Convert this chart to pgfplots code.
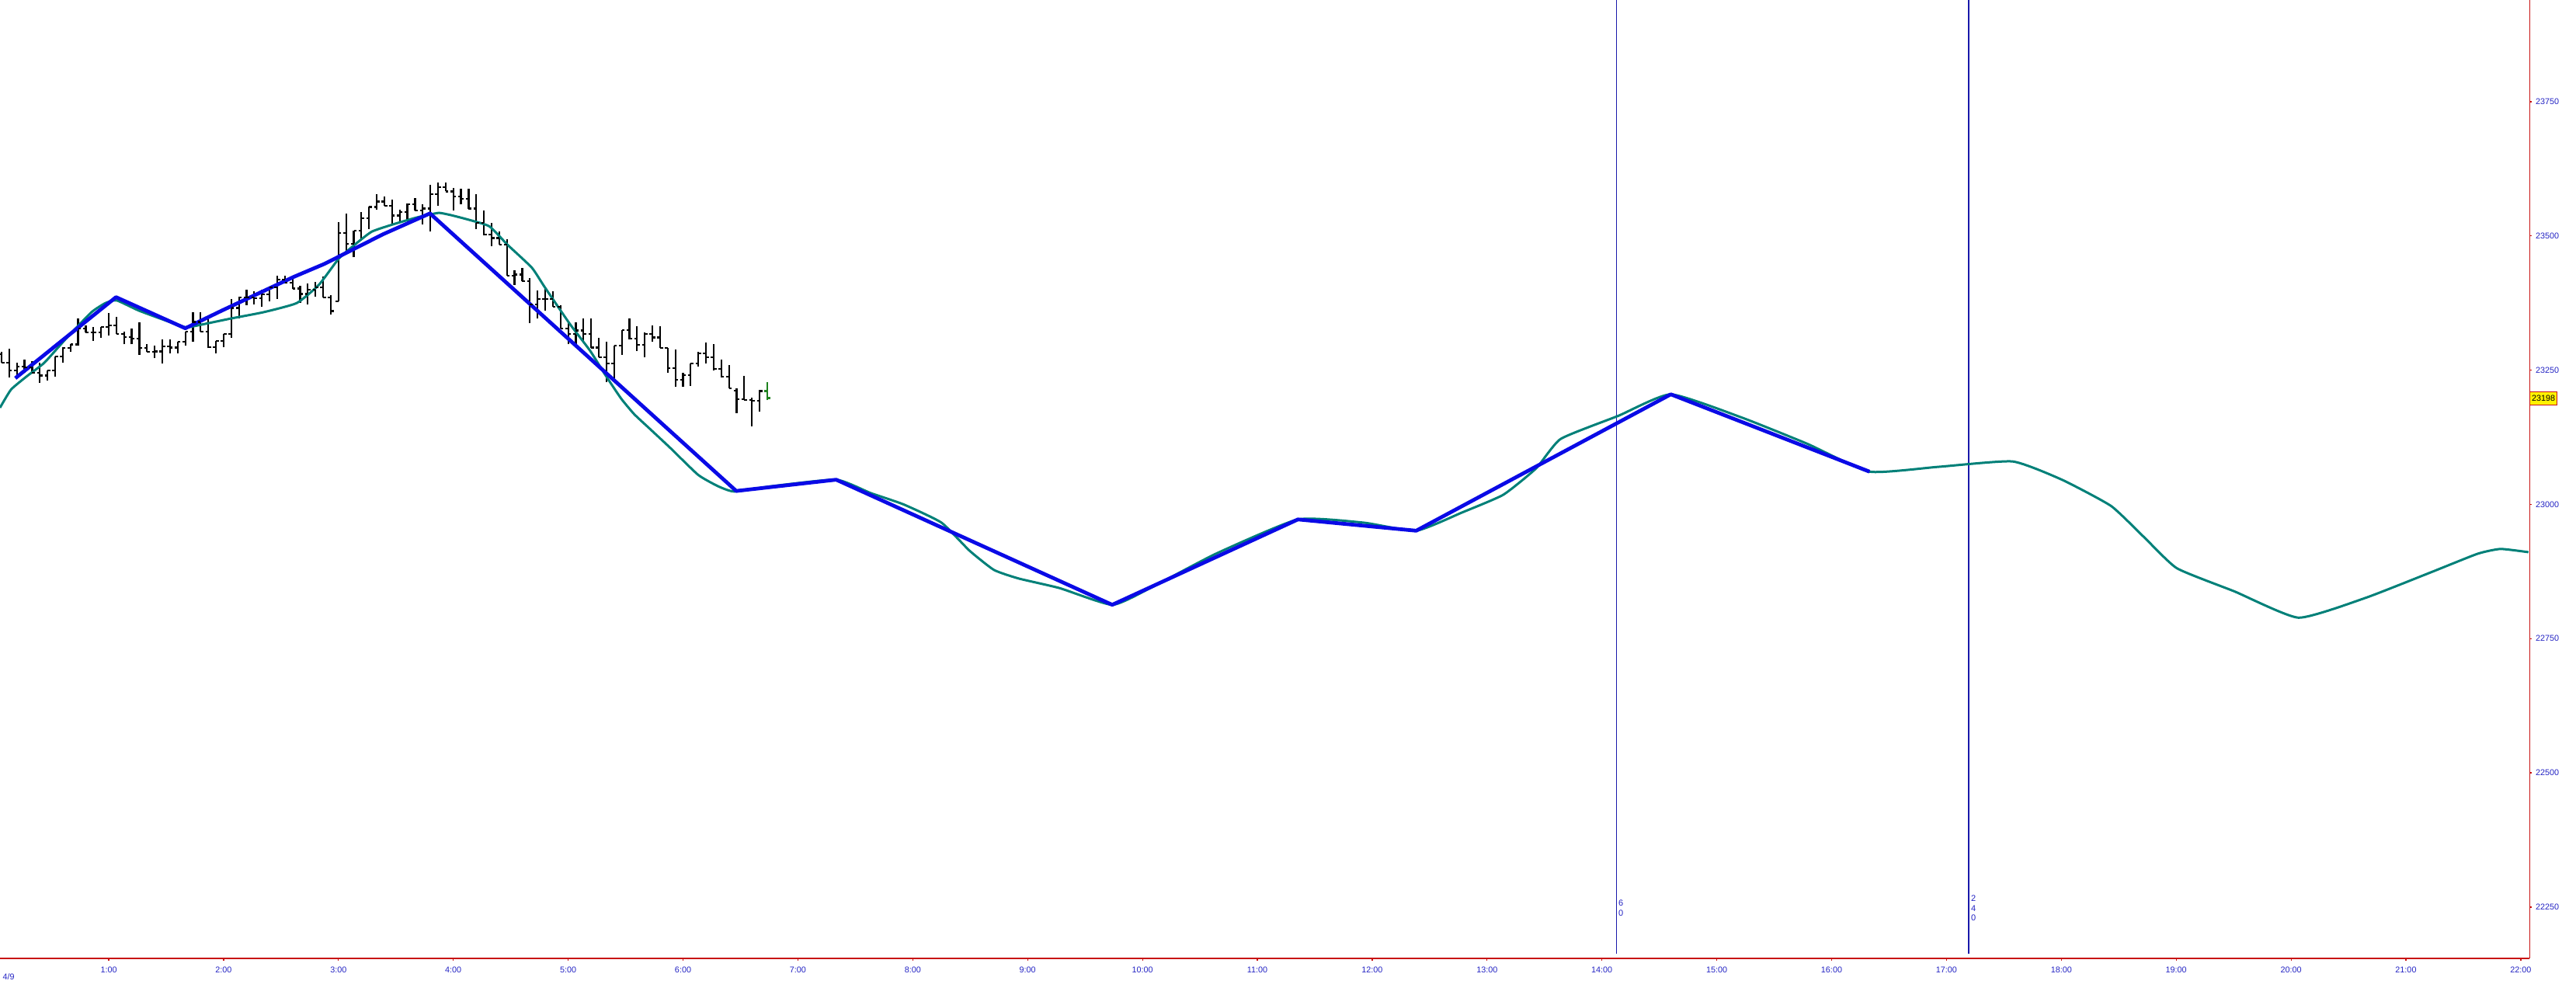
\documentclass[border=0pt]{standalone}
\usepackage{fontspec}
\setmainfont{Liberation Sans}
\usepackage{pgfplots}
\usepackage{pgfplotstable}
\pgfplotsset{compat=1.18}
\definecolor{zz}{RGB}{10,10,230}
\definecolor{ma}{RGB}{0,128,120}
\definecolor{axred}{RGB}{200,20,20}
\definecolor{lblue}{RGB}{35,35,195}
\definecolor{vnavy}{RGB}{25,25,170}
\definecolor{bargreen}{RGB}{30,130,30}
\pgfdeclareplotmark{otick}{\pgfpathmoveto{\pgfqpoint{-\pgfplotmarksize}{0pt}}\pgfpathlineto{\pgfqpoint{0pt}{0pt}}\pgfusepathqstroke}
\pgfdeclareplotmark{ctick}{\pgfpathmoveto{\pgfqpoint{\pgfplotmarksize}{0pt}}\pgfpathlineto{\pgfqpoint{0pt}{0pt}}\pgfusepathqstroke}

\pgfplotstableread{
t o h l c
4 23280 23284 23264 23264
8 23264 23290 23236 23250
12 23250 23264 23236 23257
16 23257 23269 23245 23255
20 23255 23267 23243 23245
24 23245 23264 23226 23240
28 23240 23250 23231 23250
32 23250 23276 23238 23276
36 23276 23293 23264 23291
40 23291 23298 23284 23298
44 23298 23346 23296 23327
48 23327 23334 23320 23320
52 23320 23330 23305 23320
56 23320 23330 23310 23330
60 23330 23356 23315 23333
64 23333 23349 23318 23318
68 23318 23322 23298 23312
72 23312 23327 23298 23309
76 23309 23339 23279 23291
80 23291 23298 23284 23284
84 23284 23296 23272 23285
88 23285 23308 23262 23294
92 23294 23308 23281 23292
96 23292 23303 23281 23303
100 23303 23322 23296 23322
104 23322 23358 23303 23340
108 23340 23358 23322 23322
112 23322 23351 23291 23293
116 23293 23305 23281 23305
120 23305 23317 23293 23317
124 23317 23383 23310 23366
128 23366 23387 23346 23385
132 23385 23400 23371 23385
136 23385 23397 23373 23384
140 23384 23400 23368 23391
144 23391 23404 23378 23404
148 23404 23426 23383 23419
152 23419 23426 23412 23413
156 23413 23424 23402 23402
160 23402 23407 23375 23392
164 23392 23412 23373 23400
168 23400 23414 23387 23404
172 23404 23424 23385 23385
176 23385 23390 23354 23360
180 23378 23526 23378 23505
184 23505 23542 23469 23485
188 23485 23510 23460 23510
192 23510 23544 23491 23533
196 23533 23554 23513 23554
200 23554 23578 23549 23564
204 23564 23573 23556 23556
208 23556 23568 23522 23538
212 23538 23549 23527 23544
216 23544 23561 23527 23559
220 23559 23571 23547 23547
224 23547 23559 23522 23551
228 23551 23595 23508 23578
232 23578 23600 23556 23591
236 23591 23600 23583 23583
240 23583 23590 23547 23573
244 23573 23588 23559 23569
248 23569 23588 23551 23551
252 23551 23578 23513 23524
256 23524 23547 23501 23503
260 23503 23525 23481 23496
264 23496 23508 23484 23484
268 23484 23494 23426 23426
272 23426 23436 23409 23428
276 23428 23440 23416 23416
280 23416 23421 23337 23372
284 23372 23399 23346 23382
288 23382 23404 23361 23382
292 23382 23397 23368 23368
296 23368 23371 23327 23327
300 23327 23339 23298 23318
304 23318 23339 23298 23324
308 23324 23346 23303 23318
312 23318 23346 23291 23292
316 23292 23310 23274 23274
320 23274 23303 23228 23263
324 23263 23296 23231 23296
328 23296 23325 23279 23325
332 23325 23346 23308 23309
336 23309 23332 23286 23297
340 23297 23320 23274 23318
344 23318 23334 23303 23311
348 23311 23332 23291 23291
352 23291 23291 23245 23254
356 23254 23289 23219 23232
360 23232 23245 23219 23241
364 23241 23262 23221 23262
368 23262 23284 23257 23281
372 23281 23301 23262 23274
376 23274 23298 23250 23252
380 23252 23269 23236 23238
384 23238 23260 23216 23216
388 23212 23216 23170 23196
392 23196 23240 23194 23194
396 23194 23199 23146 23193
400 23193 23214 23173 23211
}\ohlc

\pgfplotstableread{
t o h l c
404 23211 23228 23194 23198
}\ohlclast

\pgfplotstableread{
t v
3.2 23180
9.0 23214
17.7 23240
26.4 23264
38.0 23310
51.0 23358
58.3 23375
64.1 23380
75.7 23361
90.1 23342
100.0 23330
104.6 23332
123.5 23346
140.9 23358
158.2 23375
169.8 23409
180.0 23457
188.6 23484
197.4 23508
208.9 23522
220.5 23534
227.8 23540
232.7 23543
238.5 23539
247.2 23531
258.8 23518
268.2 23484
281.0 23441
287.5 23406
300.7 23337
311.5 23286
319.6 23240
327.7 23197
334.5 23168
342.6 23141
353.4 23105
367.9 23055
378.2 23034
386.8 23024
406.6 23034
440.0 23046
458.1 23021
475.2 23000
495.0 22966
509.6 22914
522.4 22878
535.3 22862
556.8 22844
584.2 22813
604.0 22844
638.3 22908
681.2 22972
715.5 22966
743.0 22951
767.0 22985
788.5 23018
805.6 23067
818.5 23122
848.6 23165
876.0 23205
912.9 23162
947.2 23113
979.8 23061
1015.9 23070
1054.5 23080
1080.3 23046
1106.0 22997
1123.2 22939
1140.4 22881
1170.4 22838
1203.9 22789
1239.0 22826
1273.4 22874
1297.4 22908
1309.4 22917
1324.0 22911
}\maline

\pgfplotstableread{
t v
11.2 23235
63.8 23386
100.0 23328
119.1 23361
156.8 23424
172.7 23448
203.2 23503
227.8 23542
387.8 23025
440.0 23046
584.2 22813
681.2 22972
743.0 22951
876.0 23205
979.8 23061
}\zigzag

\begin{document}
\begin{tikzpicture}
\begin{axis}[
  at={(0,0)}, anchor=south west,
  scale only axis, width=814.3pt, height=308.5pt,
  xmin=3.2, xmax=1324.6, ymin=22154.4, ymax=23939.5,
  axis x line=bottom, axis y line=right,
  axis line style={axred, line width=0.3pt, -},
  tick align=outside, major tick length=0.75pt,
  tick style={axred, line width=0.3pt},
  scaled y ticks=false, scaled x ticks=false,
  xtick={60,120,...,1320},
  xticklabels={1:00,2:00,3:00,4:00,5:00,6:00,7:00,8:00,9:00,10:00,11:00,12:00,13:00,14:00,15:00,16:00,17:00,18:00,19:00,20:00,21:00,22:00},
  ytick={22250,22500,22750,23000,23250,23500,23750},
  yticklabels={22250,22500,22750,23000,23250,23500,23750},
  ticklabel style={font=\fontsize{2.7}{3.2}\selectfont, text=lblue, inner sep=0pt},
  xticklabel style={anchor=north, yshift=-1.68pt},
  yticklabel style={anchor=west, xshift=1pt},
  clip=false,
]
% vertical time lines
\addplot[vnavy, line width=0.45pt, mark=none] coordinates {(847.6,22163.1) (847.6,23939.5)};
\addplot[vnavy, line width=0.45pt, mark=none] coordinates {(1031.7,22163.1) (1031.7,23939.5)};
\node[anchor=north west, inner sep=0pt, align=left, text=lblue, font=\fontsize{2.75}{3.125}\selectfont] at (axis cs:848.4,22263.9) {6\\0};
\node[anchor=north west, inner sep=0pt, align=left, text=lblue, font=\fontsize{2.75}{3.125}\selectfont] at (axis cs:1032.5,22272.6) {2\\4\\0};

% OHLC bars
\addplot[draw=none, mark=none, error bars/.cd, y dir=plus, y explicit, error mark=none,
  error bar style={draw=black, solid, line width=0.55pt}]
  table[x=t, y=l, y error plus expr=\thisrow{h}-\thisrow{l}] {\ohlc};
\addplot[only marks, mark=otick, mark size=0.9pt, mark options={draw=black, line width=0.55pt}] table[x=t, y=o] {\ohlc};
\addplot[only marks, mark=ctick, mark size=0.9pt, mark options={draw=black, line width=0.55pt}] table[x=t, y=c] {\ohlc};
\addplot[draw=none, mark=none, error bars/.cd, y dir=plus, y explicit, error mark=none,
  error bar style={draw=bargreen, solid, line width=0.55pt}]
  table[x=t, y=l, y error plus expr=\thisrow{h}-\thisrow{l}] {\ohlclast};
\addplot[only marks, mark=otick, mark size=0.9pt, mark options={draw=bargreen, line width=0.55pt}] table[x=t, y=o] {\ohlclast};
\addplot[only marks, mark=ctick, mark size=0.9pt, mark options={draw=bargreen, line width=0.55pt}] table[x=t, y=c] {\ohlclast};

% moving average and zigzag
\addplot[ma, line width=0.75pt, mark=none, line join=round, smooth, tension=0.3] table[x=t, y=v] {\maline};
\addplot[zz, line width=1.2pt, mark=none, line join=round] table[x=t, y=v] {\zigzag};

% price label
\node[fill=yellow, draw=axred, line width=0.25pt, anchor=west, inner xsep=0.6pt, inner ysep=0pt,
  minimum height=4.25pt, font=\fontsize{2.7}{3.2}\selectfont, text=black] at (axis cs:1324.6,23197.3) {23198};
% date label
\node[anchor=west, inner sep=0pt, xshift=0.7pt, yshift=-6pt, text=lblue, font=\fontsize{2.7}{3.2}\selectfont] at (rel axis cs:0,0) {4/9};
\end{axis}
\pgfresetboundingbox
\path[use as bounding box] (0,-15pt) rectangle (829.25pt,308.5pt);
\end{tikzpicture}
\end{document}
